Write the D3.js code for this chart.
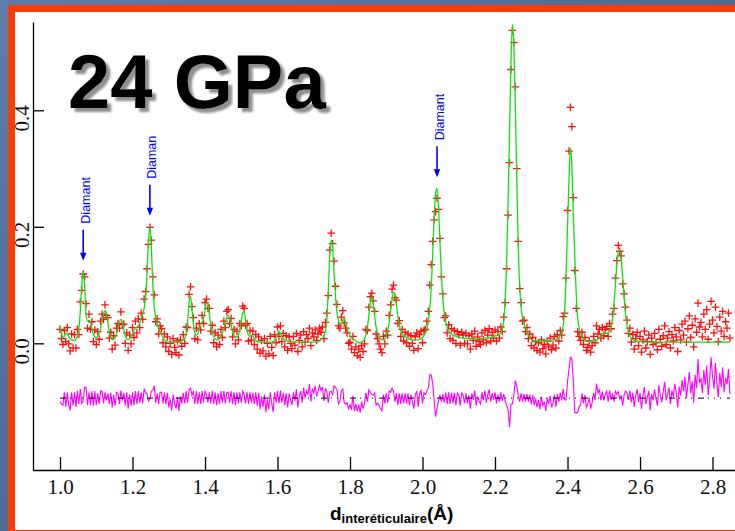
<!DOCTYPE html>
<html>
<head>
<meta charset="utf-8">
<script src="https://cdn.jsdelivr.net/npm/d3@7"></script>
<style>
  html, body { margin: 0; padding: 0; background: #577aa3; }
  svg { display: block; }
</style>
</head>
<body>
<svg id="chart" width="735" height="531"></svg>
<script>
// Powder diffraction pattern at 24 GPa: observed intensities (crosses),
// calculated profile (green) and observed - calculated difference (magenta).

// Measurement grid in d-spacing (Å)
const dStart = 1.0;
const dStep = 0.004;

// Observed intensity at each grid point
const obsI = [
  .024,.008,-.002,.022,.003,.027,-.001,-.013,.016,-.008,
  .015,-.008,.024,.015,.071,.091,.119,.114,.068,.026,
  .050,.024,.037,.003,.023,-.002,.020,.007,.038,.050,
  .041,.066,.048,.044,.009,.019,-.010,.013,-.003,.026,
  .034,.026,.054,.032,.033,.000,.018,-.012,.014,-.001,
  .027,.010,.038,.018,.042,.027,.052,.041,.076,.089,
  .128,.170,.199,.177,.114,.083,.037,.042,.016,.030,
  .025,.001,.016,-.006,.011,-.014,.000,-.019,.008,-.007,
  -.016,.004,-.020,.006,-.005,.015,.000,.028,.027,.084,
  .097,.063,.044,.008,.026,.006,.034,.023,.048,.034,
  .070,.076,.060,.060,.021,.031,.001,.018,-.006,.014,
  -.002,.024,.010,.038,.027,.055,.058,.034,.043,.011,
  .024,-.001,.021,.006,.034,.030,.064,.060,.031,.034,
  .004,.022,.006,.021,-.002,.015,-.010,.011,-.017,.005,
  -.013,.008,-.022,.000,-.018,.012,-.007,-.021,.015,.001,
  .028,.012,.030,.003,.017,-.006,.013,-.012,.011,.000,
  -.009,.012,-.003,.017,-.014,.005,.014,-.006,.020,.002,
  .015,.008,.026,-.004,.018,.011,.023,.005,.016,.026,
  .019,.028,.008,.036,.052,.082,.160,.189,.171,.141,
  .098,.067,.030,.026,.045,.056,.035,.026,.018,.000,
  .002,-.010,.012,-.016,-.006,-.021,-.010,-.024,-.004,-.014,
  -.001,.024,.022,.062,.080,.086,.073,.055,.016,.008,
  -.001,-.010,-.016,.012,-.001,.021,.014,.048,.066,.093,
  .100,.078,.074,.034,.039,.012,.024,.004,.019,.001,
  .016,-.005,.013,.000,-.012,.011,.018,-.009,.015,.021,
  .001,.022,.024,.038,.055,.100,.135,.175,.212,.226,
  .249,.230,.180,.114,.085,.044,.047,.018,.032,.008,
  .025,.005,.022,.000,.020,.015,-.003,.019,.014,.000,
  .017,-.001,.013,-.010,.016,.005,.021,-.005,.011,.003,
  -.002,.018,.006,.022,.001,.014,.025,.004,.019,.009,
  .023,.004,.020,.009,.028,.020,.045,.070,.128,.220,
  .310,.470,.537,.516,.440,.300,.175,.094,.070,.038,
  .040,.020,.027,.008,.016,-.004,.010,-.008,.003,-.012,
  .001,-.015,.006,-.009,-.002,-.018,.004,-.006,.009,-.011,
  -.003,.012,-.008,.015,.004,.022,.014,.046,.052,.112,
  .228,.330,.405,.372,.250,.125,.060,.020,.012,.005,
  .019,-.002,.010,-.012,-.007,.004,-.015,-.004,.012,.001,
  .030,.016,.024,.009,.027,.013,.023,.029,.012,.034,
  .025,.050,.060,.112,.142,.168,.158,.150,.102,.085,
  .062,.040,.017,.026,.002,.015,-.010,.008,.019,-.004,
  .012,-.015,.006,.021,-.008,.003,.014,-.019,.009,-.002,
  .017,.001,-.011,.024,.007,-.005,.013,.030,-.002,.009,
  .020,-.008,.015,.004,.027,.011,-.014,.022,.006,.033,
  .014,.038,.002,.025,.047,.010,.031,-.006,.042,.019,
  .069,.028,.036,.011,.050,.024,.058,.007,.033,.072,
  .040,.018,.062,.029,.003,.045,.021,.055,.012,.037,
  .026,.052,.009
];

// Calculated (refined) profile on the same grid
const calcI = [
  .030,.018,.010,.012,.018,.017,.012,.008,.006,.005,
  .005,.007,.012,.025,.055,.100,.123,.095,.050,.038,
  .040,.036,.025,.016,.011,.010,.012,.017,.026,.038,
  .050,.056,.052,.036,.019,.010,.006,.007,.010,.016,
  .026,.036,.041,.036,.024,.013,.008,.006,.008,.012,
  .017,.022,.026,.028,.030,.035,.042,.050,.060,.080,
  .120,.175,.200,.165,.100,.062,.045,.034,.026,.020,
  .015,.010,.006,.004,.002,.002,.002,.002,.002,.002,
  .002,.002,.002,.003,.004,.006,.009,.016,.035,.070,
  .080,.058,.032,.018,.014,.016,.024,.033,.036,.042,
  .058,.070,.068,.050,.030,.018,.011,.008,.006,.006,
  .008,.012,.018,.026,.036,.045,.048,.042,.031,.021,
  .014,.011,.011,.015,.024,.038,.052,.054,.040,.024,
  .014,.012,.014,.012,.008,.005,.003,.002,.002,.002,
  .002,.002,.002,.002,.002,.002,.002,.003,.005,.009,
  .016,.021,.017,.011,.008,.006,.005,.004,.003,.003,
  .003,.002,.002,.002,.002,.002,.002,.002,.002,.002,
  .002,.002,.002,.002,.002,.002,.002,.002,.003,.004,
  .006,.009,.013,.020,.040,.090,.150,.177,.165,.120,
  .080,.052,.040,.032,.033,.040,.043,.036,.026,.018,
  .013,.010,.008,.006,.004,.002,.001,.001,.002,.004,
  .008,.015,.028,.048,.070,.080,.068,.046,.028,.017,
  .011,.008,.006,.006,.008,.013,.022,.036,.056,.076,
  .088,.084,.066,.046,.031,.022,.016,.013,.011,.010,
  .008,.007,.007,.006,.006,.006,.006,.006,.007,.008,
  .010,.013,.018,.026,.038,.060,.095,.150,.215,.258,
  .266,.235,.175,.120,.078,.052,.037,.028,.022,.018,
  .016,.014,.013,.012,.011,.010,.010,.010,.009,.009,
  .009,.008,.008,.008,.008,.008,.008,.008,.008,.008,
  .008,.008,.009,.009,.009,.009,.010,.010,.011,.012,
  .013,.013,.014,.015,.018,.025,.038,.075,.140,.240,
  .360,.480,.547,.510,.410,.280,.170,.100,.062,.044,
  .033,.026,.020,.014,.010,.007,.005,.004,.004,.004,
  .004,.004,.004,.004,.004,.004,.004,.004,.005,.005,
  .006,.006,.007,.008,.010,.013,.018,.030,.055,.115,
  .200,.280,.335,.305,.220,.150,.085,.045,.027,.017,
  .011,.007,.005,.004,.003,.003,.003,.003,.003,.004,
  .005,.007,.010,.013,.016,.017,.017,.017,.018,.021,
  .028,.042,.066,.100,.135,.157,.160,.145,.115,.080,
  .050,.031,.020,.013,.009,.006,.005,.004,.004,.003,
  .003,.003,.002,.002,.002,.002,.002,.002,.002,.002,
  .002,.002,.002,.002,.002,.002,.002,.002,.002,.002,
  .002,.002,.002,.002,.002,.002,.002,.002,.002,.002,
  .002,.002,.002,.002,.002,.002,.002,.002,.002,.002,
  .002,.002,.002,.002,.002,.002,.002,.002,.002,.002,
  .002,.002,.002,.002,.002,.002,.002,.002,.002,.002,
  .002,.002,.002
];

// Vertical offset at which the difference curve is plotted
const diffOffset = -0.094;

// Axis ticks
const xTicks = [1.0, 1.2, 1.4, 1.6, 1.8, 2.0, 2.2, 2.4, 2.6, 2.8];
const yTicks = [0.0, 0.2, 0.4];

// Diamond-anvil reflections marked with arrows
const diamondD = [1.064, 1.248, 2.040];
const diamondLabels = ["Diamant", "Diaman", "Diamant"];

const titleText = "24 GPa";

// ---------------------------------------------------------------------------
const W = 735, H = 531;
const svg = d3.select("#chart");
const defs = svg.append("defs");

const bg = defs.append("linearGradient").attr("id", "bgGrad")
  .attr("x1", 0).attr("y1", 0).attr("x2", 1).attr("y2", 1);
bg.append("stop").attr("offset", "0%").attr("stop-color", "#5c7ea8");
bg.append("stop").attr("offset", "50%").attr("stop-color", "#4b6b95");
bg.append("stop").attr("offset", "100%").attr("stop-color", "#6585ad");

// Soft grey drop shadow for the title
const shadow = defs.append("filter").attr("id", "titleShadow")
  .attr("x", "-10%").attr("y", "-20%").attr("width", "130%").attr("height", "150%");
shadow.append("feDropShadow")
  .attr("dx", 4).attr("dy", 4).attr("stdDeviation", 1.2)
  .attr("flood-color", "#8f8f8f").attr("flood-opacity", 1);

// Slide background, red frame and white plotting sheet
svg.append("rect").attr("width", W).attr("height", H).attr("fill", "url(#bgGrad)");
svg.append("rect").attr("x", 8).attr("y", 5).attr("width", W).attr("height", H)
  .attr("fill", "#ff3a05");
svg.append("rect").attr("x", 15).attr("y", 12).attr("width", W).attr("height", 518)
  .attr("fill", "#ffffff");

// Scales
const x = d3.scaleLinear().domain([0.9255, 2.862]).range([33, 735]);
const y = d3.scaleLinear().domain([-0.2174, 0.5515]).range([470, 22]);

const n = Math.min(obsI.length, calcI.length);
const pts = d3.range(n).map(i => ({
  d: dStart + i * dStep,
  obs: obsI[i],
  calc: calcI[i],
  diff: obsI[i] - calcI[i] + diffOffset
}));

// Axes (ticks point inward)
const gx = svg.append("g").attr("transform", "translate(0,470)")
  .call(d3.axisBottom(x).tickValues(xTicks).tickFormat(d3.format(".1f"))
    .tickSizeInner(-13).tickSizeOuter(0).tickPadding(9));
const gy = svg.append("g").attr("transform", "translate(33,0)")
  .call(d3.axisLeft(y).tickValues(yTicks).tickFormat("")
    .tickSizeInner(-11).tickSizeOuter(0));
[gx, gy].forEach(g => {
  g.select(".domain").attr("stroke", "#000").attr("stroke-width", 1.3);
  g.selectAll(".tick line").attr("stroke", "#000").attr("stroke-width", 1.3);
});
gx.selectAll(".tick text")
  .attr("font-family", "'Liberation Serif', serif")
  .attr("font-size", 21)
  .attr("fill", "#111");

// Rotated y tick labels
svg.append("g").selectAll("text").data(yTicks).join("text")
  .attr("transform", d => `translate(29,${y(d) + 8}) rotate(-90)`)
  .attr("text-anchor", "middle")
  .attr("font-family", "'Liberation Serif', serif")
  .attr("font-size", 21)
  .attr("fill", "#111")
  .text(d3.format(".1f"));

// Observed points as crosses
const cs = 3.8;
svg.append("path")
  .attr("d", pts.map(p => {
    const px = x(p.d), py = y(p.obs);
    return `M${px - cs},${py}h${2 * cs}M${px},${py - cs}v${2 * cs}`;
  }).join(""))
  .attr("fill", "none")
  .attr("stroke", "#ff1010")
  .attr("stroke-width", 1.3);

// Calculated profile
svg.append("path").datum(pts)
  .attr("d", d3.line().x(p => x(p.d)).y(p => y(p.calc)).curve(d3.curveMonotoneX))
  .attr("fill", "none")
  .attr("stroke", "#10e010")
  .attr("stroke-width", 1.3);

// Difference curve
svg.append("path").datum(pts)
  .attr("d", d3.line().x(p => x(p.d)).y(p => y(p.diff)))
  .attr("fill", "none")
  .attr("stroke", "#ff00ff")
  .attr("stroke-width", 1.1);

// Zero line of the difference curve
svg.append("line")
  .attr("x1", x(pts[0].d)).attr("x2", x(pts[n - 1].d))
  .attr("y1", y(diffOffset)).attr("y2", y(diffOffset))
  .attr("stroke", "#000")
  .attr("stroke-width", 1)
  .attr("stroke-dasharray", "6,4,1,5,1,5,1,6");

// Diamond reflection markers
const ann = svg.append("g").attr("fill", "#0000ff");
diamondD.forEach((d, k) => {
  const idx = Math.round((d - dStart) / dStep);
  const px = x(d);
  const tip = y(calcI[idx]) - 11;
  const top = tip - 31;
  ann.append("line")
    .attr("x1", px).attr("x2", px).attr("y1", top).attr("y2", tip - 6)
    .attr("stroke", "#0000ff").attr("stroke-width", 1.6);
  ann.append("path")
    .attr("d", `M${px - 3.2},${tip - 8}L${px + 3.2},${tip - 8}L${px},${tip}Z`);
  ann.append("text")
    .attr("transform", `translate(${px + 6.5},${top - 6}) rotate(-90)`)
    .attr("font-family", "'Liberation Sans', Arial, sans-serif")
    .attr("font-size", 12.5)
    .text(diamondLabels[k]);
});

// Title with drop shadow
const titleFont = "'Liberation Sans', Arial, sans-serif";
svg.append("text").attr("x", 68).attr("y", 108)
  .attr("font-family", titleFont).attr("font-weight", "bold").attr("font-size", 76)
  .attr("fill", "#000").attr("filter", "url(#titleShadow)")
  .text(titleText);

// X axis title with subscript
const xt = svg.append("text").attr("x", 330).attr("y", 519.5)
  .attr("font-family", titleFont).attr("font-weight", "bold").attr("fill", "#000");
xt.append("tspan").attr("font-size", 19).text("d");
xt.append("tspan").attr("font-size", 13).attr("dy", 3.5).text("interéticulaire");
xt.append("tspan").attr("font-size", 19).attr("dy", -3.5).text("(Å)");
</script>
</body>
</html>
